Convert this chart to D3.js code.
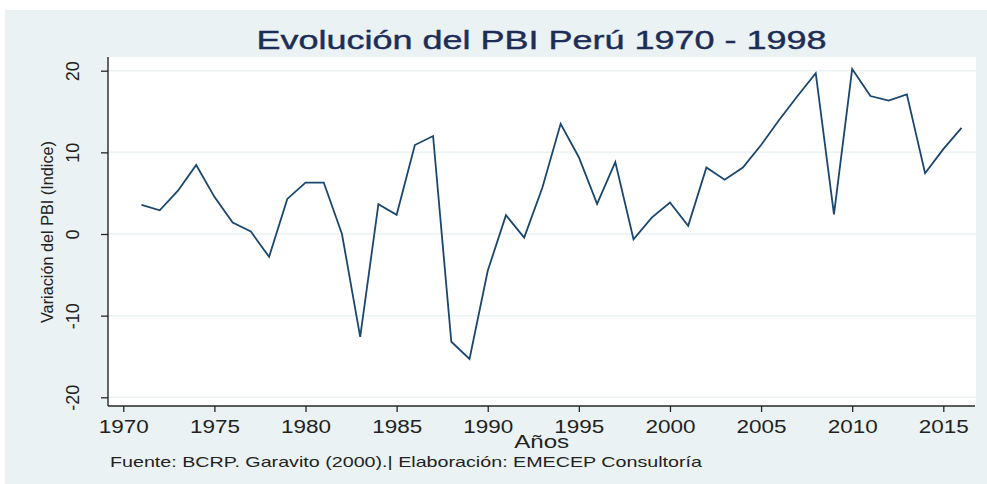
<!DOCTYPE html>
<html>
<head>
<meta charset="utf-8">
<script src="https://cdn.jsdelivr.net/npm/d3@7"></script>
<style>
  html, body { margin: 0; padding: 0; background: #ffffff; }
  svg { display: block; }
</style>
</head>
<body>
<div id="chart"></div>
<script>
// ---- Data ----
const years = [1971,1972,1973,1974,1975,1976,1977,1978,1979,1980,
               1981,1982,1983,1984,1985,1986,1987,1988,1989,1990,
               1991,1992,1993,1994,1995,1996,1997,1998,1999,2000,
               2001,2002,2003,2004,2005,2006,2007,2008,2009,2010,
               2011,2012,2013,2014,2015,2016];
const pbi = [3.57,2.9,5.3,8.45,4.55,1.4,0.3,-2.8,4.3,6.3,
             6.3,0.0,-12.6,3.65,2.35,10.9,12.0,-13.2,-15.3,-4.5,
             2.3,-0.45,5.7,13.5,9.4,3.7,8.8,-0.65,2.0,3.85,
             1.0,8.15,6.65,8.15,10.9,14.0,16.9,19.7,2.4,20.2,
             16.9,16.35,17.1,7.45,10.4,13.0];
const xTicks = [1970,1975,1980,1985,1990,1995,2000,2005,2010,2015];
const yTicks = [-20,-10,0,10,20];
const titleText = "Evolución del PBI Perú 1970 - 1998";
const xTitle = "Años";
const yTitle = "Variación del PBI (Indice)";
const note = "Fuente: BCRP. Garavito (2000).| Elaboración: EMECEP Consultoría";

// ---- Layout ----
const W = 987, H = 484;
const plot = {x0: 108, x1: 976, y0: 57, y1: 406};
const font = "'Liberation Sans', Arial, Helvetica, sans-serif";
const bg = "#eaf2f3";
const lineColor = "#1a476f";
const axisColor = "#262626";

const svg = d3.select("#chart").append("svg")
  .attr("width", W).attr("height", H);

svg.append("rect").attr("x", 0).attr("y", 0).attr("width", W).attr("height", H).attr("fill", "#ffffff");
svg.append("rect").attr("x", 5).attr("y", 10).attr("width", W - 5).attr("height", H - 10).attr("fill", bg);
svg.append("rect").attr("x", plot.x0).attr("y", plot.y0)
  .attr("width", plot.x1 - plot.x0).attr("height", plot.y1 - plot.y0).attr("fill", "#ffffff");

const x = d3.scaleLinear().domain([1970, 2015]).range([123.3, 943.3]);
const y = d3.scaleLinear().domain([-20, 20]).range([397.3, 70.7]);

// gridlines
svg.append("g").selectAll("line").data(yTicks).join("line")
  .attr("x1", plot.x0).attr("x2", plot.x1)
  .attr("y1", d => y(d)).attr("y2", d => y(d))
  .attr("stroke", bg).attr("stroke-width", 1.5);

// x axis
const xAxis = svg.append("g").attr("transform", `translate(0,${plot.y1})`)
  .call(d3.axisBottom(x).tickValues(xTicks).tickFormat(d => String(d)).tickSize(6).tickSizeOuter(0));
xAxis.select(".domain").remove();
xAxis.selectAll(".tick line").attr("stroke", axisColor).attr("stroke-width", 1.3);
xAxis.selectAll(".tick text")
  .attr("y", 27).attr("dy", 0)
  .attr("font-family", font).attr("font-size", 18).attr("fill", "#222")
  .attr("textLength", 50).attr("lengthAdjust", "spacingAndGlyphs");

// y axis
const yAxis = svg.append("g").attr("transform", `translate(${plot.x0},0)`)
  .call(d3.axisLeft(y).tickValues(yTicks).tickFormat(d => String(d)).tickSize(7).tickSizeOuter(0));
yAxis.select(".domain").remove();
yAxis.selectAll(".tick line").attr("stroke", axisColor).attr("stroke-width", 1.3);
yAxis.selectAll(".tick text")
  .attr("x", 0).attr("dy", 0)
  .attr("text-anchor", "middle")
  .attr("transform", "translate(-29,0) rotate(-90)")
  .attr("font-family", font).attr("font-size", 18).attr("fill", "#222");

// axis lines
svg.append("line").attr("x1", plot.x0).attr("x2", plot.x0).attr("y1", plot.y0).attr("y2", plot.y1)
  .attr("stroke", axisColor).attr("stroke-width", 1.4);
svg.append("line").attr("x1", plot.x0).attr("x2", plot.x1 - 1).attr("y1", plot.y1).attr("y2", plot.y1)
  .attr("stroke", axisColor).attr("stroke-width", 1.4);

// data line
const line = d3.line().x(d => x(d[0])).y(d => y(d[1]));
svg.append("path").datum(d3.zip(years, pbi))
  .attr("d", line).attr("fill", "none")
  .attr("stroke", lineColor).attr("stroke-width", 1.8).attr("stroke-linejoin", "miter");

// titles
svg.append("text").attr("x", 541.5).attr("y", 49).attr("text-anchor", "middle")
  .attr("font-family", font).attr("font-size", 25).attr("fill", "#1e2d57")
  .attr("stroke", "#1e2d57").attr("stroke-width", 0.4)
  .attr("textLength", 570).attr("lengthAdjust", "spacingAndGlyphs")
  .text(titleText);

svg.append("text").attr("x", 541.7).attr("y", 448).attr("text-anchor", "middle")
  .attr("font-family", font).attr("font-size", 18).attr("fill", "#222")
  .attr("textLength", 55).attr("lengthAdjust", "spacingAndGlyphs")
  .text(xTitle);

svg.append("text").attr("transform", "translate(53,232) rotate(-90)").attr("text-anchor", "middle")
  .attr("font-family", font).attr("font-size", 17).attr("fill", "#222")
  .attr("textLength", 182).attr("lengthAdjust", "spacingAndGlyphs")
  .text(yTitle);

svg.append("text").attr("x", 110).attr("y", 467).attr("text-anchor", "start")
  .attr("font-family", font).attr("font-size", 15).attr("fill", "#222")
  .attr("textLength", 592).attr("lengthAdjust", "spacingAndGlyphs")
  .text(note);
</script>
</body>
</html>
